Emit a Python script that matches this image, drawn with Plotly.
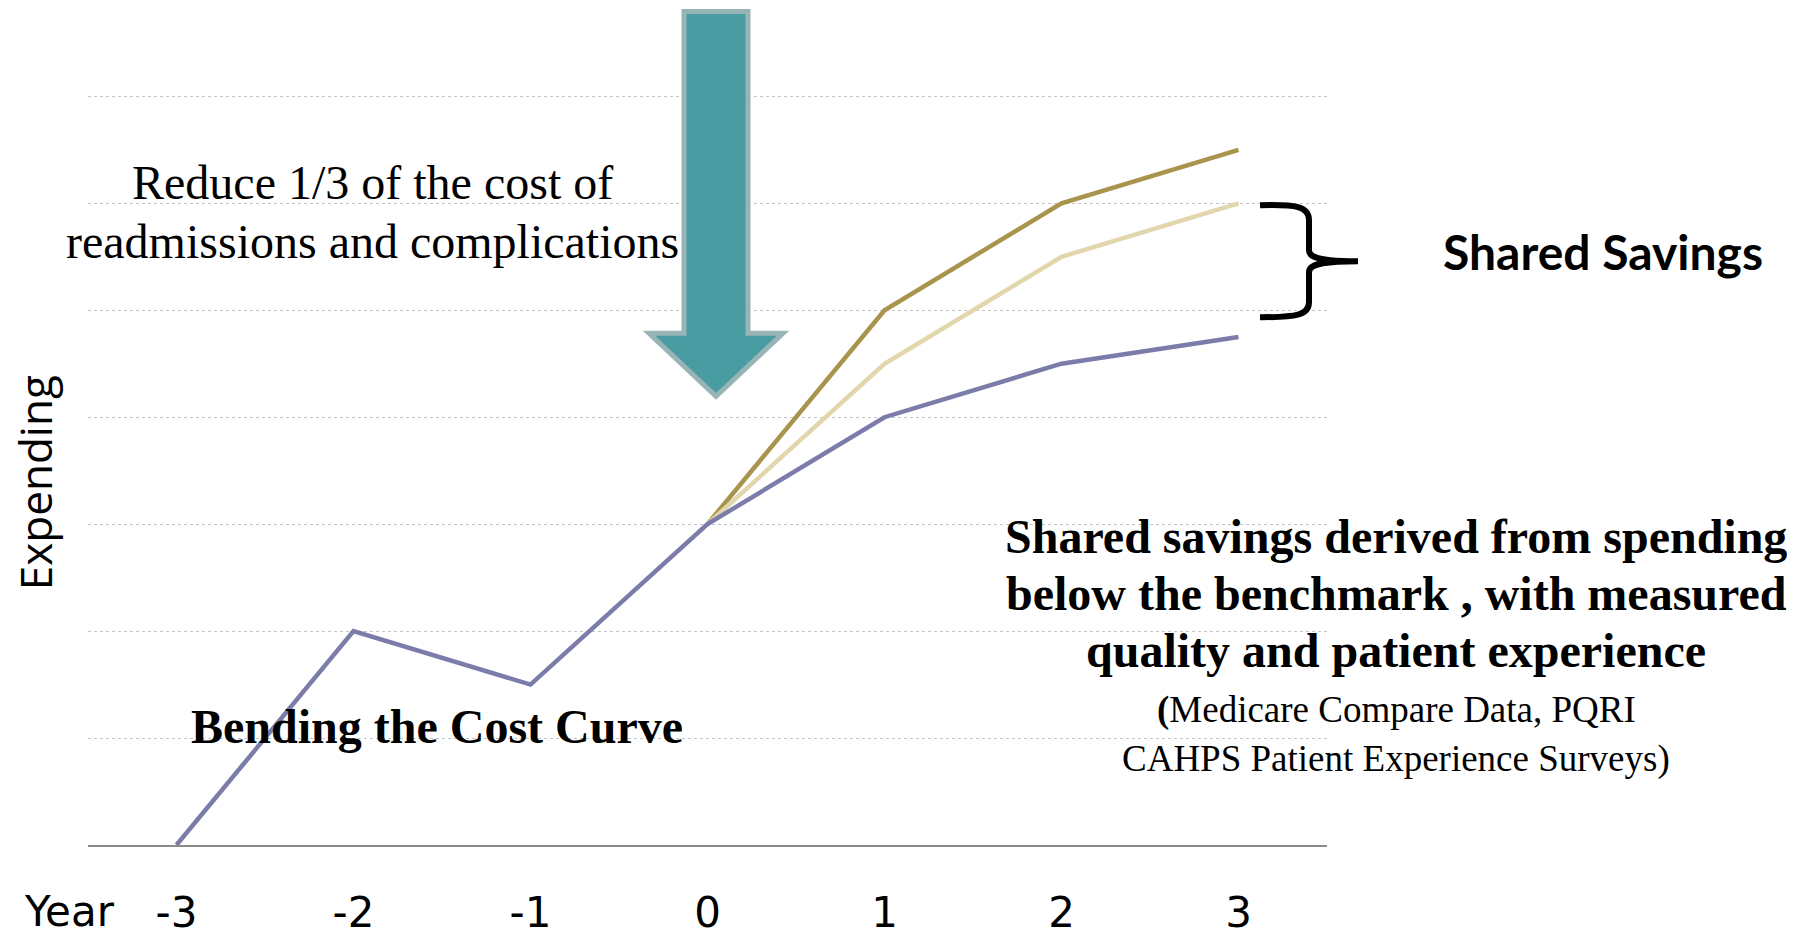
import plotly.graph_objects as go

# ---- data ----
years = [-3, -2, -1, 0, 1, 2, 3]
year_labels = ["-3", "-2", "-1", "0", "1", "2", "3"]
baseline = [0, 2, 1.5, 3, 4, 4.5, 4.75]          # bending the cost curve (blue)
benchmark_x = [0, 1, 2, 3]
benchmark = [3, 5, 6, 6.5]                        # projected benchmark (gold)
mid_x = [0, 1, 2, 3]
mid = [3, 4.5, 5.5, 6]                            # intermediate (light tan)

W, H = 1805, 937
Y_MAX = 7.05
L, R, B = 88, 1327, 845
T = B - (B - 96) * Y_MAX / 7.0   # so that y=7 lands at pixel 96


def px(x):
    return (x - L) / (R - L)


def py(y):
    return (B - y) / (B - T)


fig = go.Figure()
fig.add_trace(go.Scatter(x=benchmark_x, y=benchmark, mode="lines",
                         line=dict(color="#a8944c", width=4.5), hoverinfo="skip"))
fig.add_trace(go.Scatter(x=mid_x, y=mid, mode="lines",
                         line=dict(color="#e2d6ac", width=4.5), hoverinfo="skip"))
fig.add_trace(go.Scatter(x=years, y=baseline, mode="lines",
                         line=dict(color="#7c7cab", width=4.5), hoverinfo="skip"))

# arrow (paper coords)
arrow_pts = [(684, 11), (748, 11), (748, 333), (783, 333), (716, 396), (649, 333), (684, 333)]
path = "M " + " L ".join(f"{px(x):.5f},{py(y):.5f}" for x, y in arrow_pts) + " Z"
fig.add_shape(type="path", xref="paper", yref="paper", path=path,
              fillcolor="#489ca2", line=dict(color="#98b4b6", width=5), layer="above")


def P(x, y):
    return f"{px(x):.5f},{py(y):.5f}"


br = (f"M {P(1260,205)} C {P(1296,204)} {P(1309,206)} {P(1309,220)} L {P(1309,250)} "
      f"C {P(1309,258)} {P(1322,261)} {P(1358,261)} "
      f"M {P(1358,261)} C {P(1322,261)} {P(1309,264)} {P(1309,272)} L {P(1309,302)} "
      f"C {P(1309,315)} {P(1296,317)} {P(1260,317)}")
fig.add_shape(type="path", xref="paper", yref="paper", path=br,
              line=dict(color="black", width=6))

serif = "Liberation Serif, Times New Roman, serif"
sans = "Lato, Open Sans, sans-serif"
narrow = "Liberation Sans Narrow, Arial Narrow, DejaVu Sans, sans-serif"

annos = [
    ("Reduce 1/3 of the cost of", 372, 182, dict(family=serif, size=48)),
    ("readmissions and complications", 372, 241, dict(family=serif, size=48)),
    ("<b>Shared Savings</b>", 1603, 251, dict(family=sans, size=48)),
    ("<b>Shared savings derived from spending</b>", 1396, 536, dict(family=serif, size=48)),
    ("<b>below the benchmark , with measured</b>", 1396, 593, dict(family=serif, size=48)),
    ("<b>quality and patient experience</b>", 1396, 650, dict(family=serif, size=48)),
    ("<b>(</b>Medicare Compare Data, PQRI", 1396, 710, dict(family=serif, size=37)),
    ("CAHPS Patient Experience Surveys)", 1396, 759, dict(family=serif, size=37)),
    ("<b>Bending the Cost Curve</b>", 437, 726, dict(family=serif, size=48)),
    ("Year", 69, 912, dict(family=narrow, size=42)),
]
for text, x, y, f in annos:
    f = dict(f, color="black")
    fig.add_annotation(text=text, x=px(x), y=py(y), xref="paper", yref="paper",
                       showarrow=False, xanchor="center", yanchor="middle", font=f)

fig.add_annotation(text="Expending", x=px(35), y=py(483), xref="paper", yref="paper",
                   showarrow=False, textangle=-90, xanchor="center", yanchor="middle",
                   font=dict(family="Open Sans, sans-serif", size=44, color="black"))

fig.update_layout(
    width=W, height=H, autosize=False,
    margin=dict(l=L, r=W - R, t=T, b=H - B, pad=0),
    plot_bgcolor="white", paper_bgcolor="white",
    showlegend=False,
)
fig.update_xaxes(range=[-3.5, 3.5], tickvals=years, ticktext=year_labels,
                 showgrid=False, zeroline=False, showline=True, linecolor="#8c8c8c", linewidth=2,
                 ticks="", ticklabelstandoff=30, automargin=False,
                 tickfont=dict(family=narrow, size=42, color="black"))
fig.update_yaxes(range=[0, Y_MAX], dtick=1, showgrid=True, gridcolor="#c4c4c4", griddash="dot",
                 gridwidth=1, zeroline=False, showticklabels=False, ticks="", automargin=False)

fig.write_html("out.html", config={"displayModeBar": False},
               post_script="document.body.style.margin='0';")
